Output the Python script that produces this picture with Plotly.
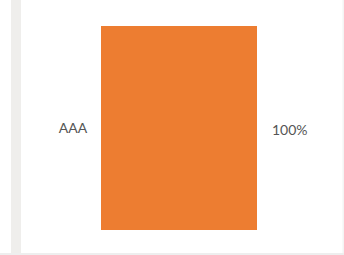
import plotly.graph_objects as go

categories = ["AAA"]
values = [100]
labels = ["100%"]

W, H = 344, 255
L, R, T, B = 101, 87, 26, 25
pw, ph = W - L - R, H - T - B

def px_x(p):
    return (p - L) / pw

def px_y(p):
    return (H - B - p) / ph

FONT = dict(family="Lato", size=14, color="#555555")

fig = go.Figure(go.Bar(
    y=categories, x=values, orientation="h",
    marker=dict(color="#ED7D31", line=dict(width=0)),
    hoverinfo="skip",
))

for c, v, t in zip(categories, values, labels):
    fig.add_annotation(x=v, y=c, xref="x", yref="y", text=t, showarrow=False,
                       xanchor="left", xshift=13, yshift=-1, font=FONT)

fig.update_layout(
    width=W, height=H,
    margin=dict(l=L, r=R, t=T, b=B),
    paper_bgcolor="white", plot_bgcolor="white",
    bargap=0,
    showlegend=False,
    xaxis=dict(range=[0, 100], visible=False, fixedrange=True),
    yaxis=dict(showgrid=False, zeroline=False, showline=False,
               ticks="outside", ticklen=10, tickcolor="rgba(0,0,0,0)",
               tickfont=FONT, fixedrange=True),
    shapes=[
        dict(type="rect", xref="paper", yref="paper", x0=px_x(11), x1=px_x(21),
             y0=px_y(0), y1=px_y(253), fillcolor="#EFEEEC", line=dict(width=0), layer="below"),
        dict(type="rect", xref="paper", yref="paper", x0=px_x(0), x1=px_x(344),
             y0=px_y(253), y1=px_y(255), fillcolor="#EEEEEE", line=dict(width=0), layer="below"),
        dict(type="rect", xref="paper", yref="paper", x0=px_x(342.5), x1=px_x(344),
             y0=px_y(0), y1=px_y(253), fillcolor="#F4F4F4", line=dict(width=0), layer="below"),
    ],
)

fig.write_html("out.html", config={"displayModeBar": False},
               post_script="document.body.style.margin='0';document.body.style.overflow='hidden';")
